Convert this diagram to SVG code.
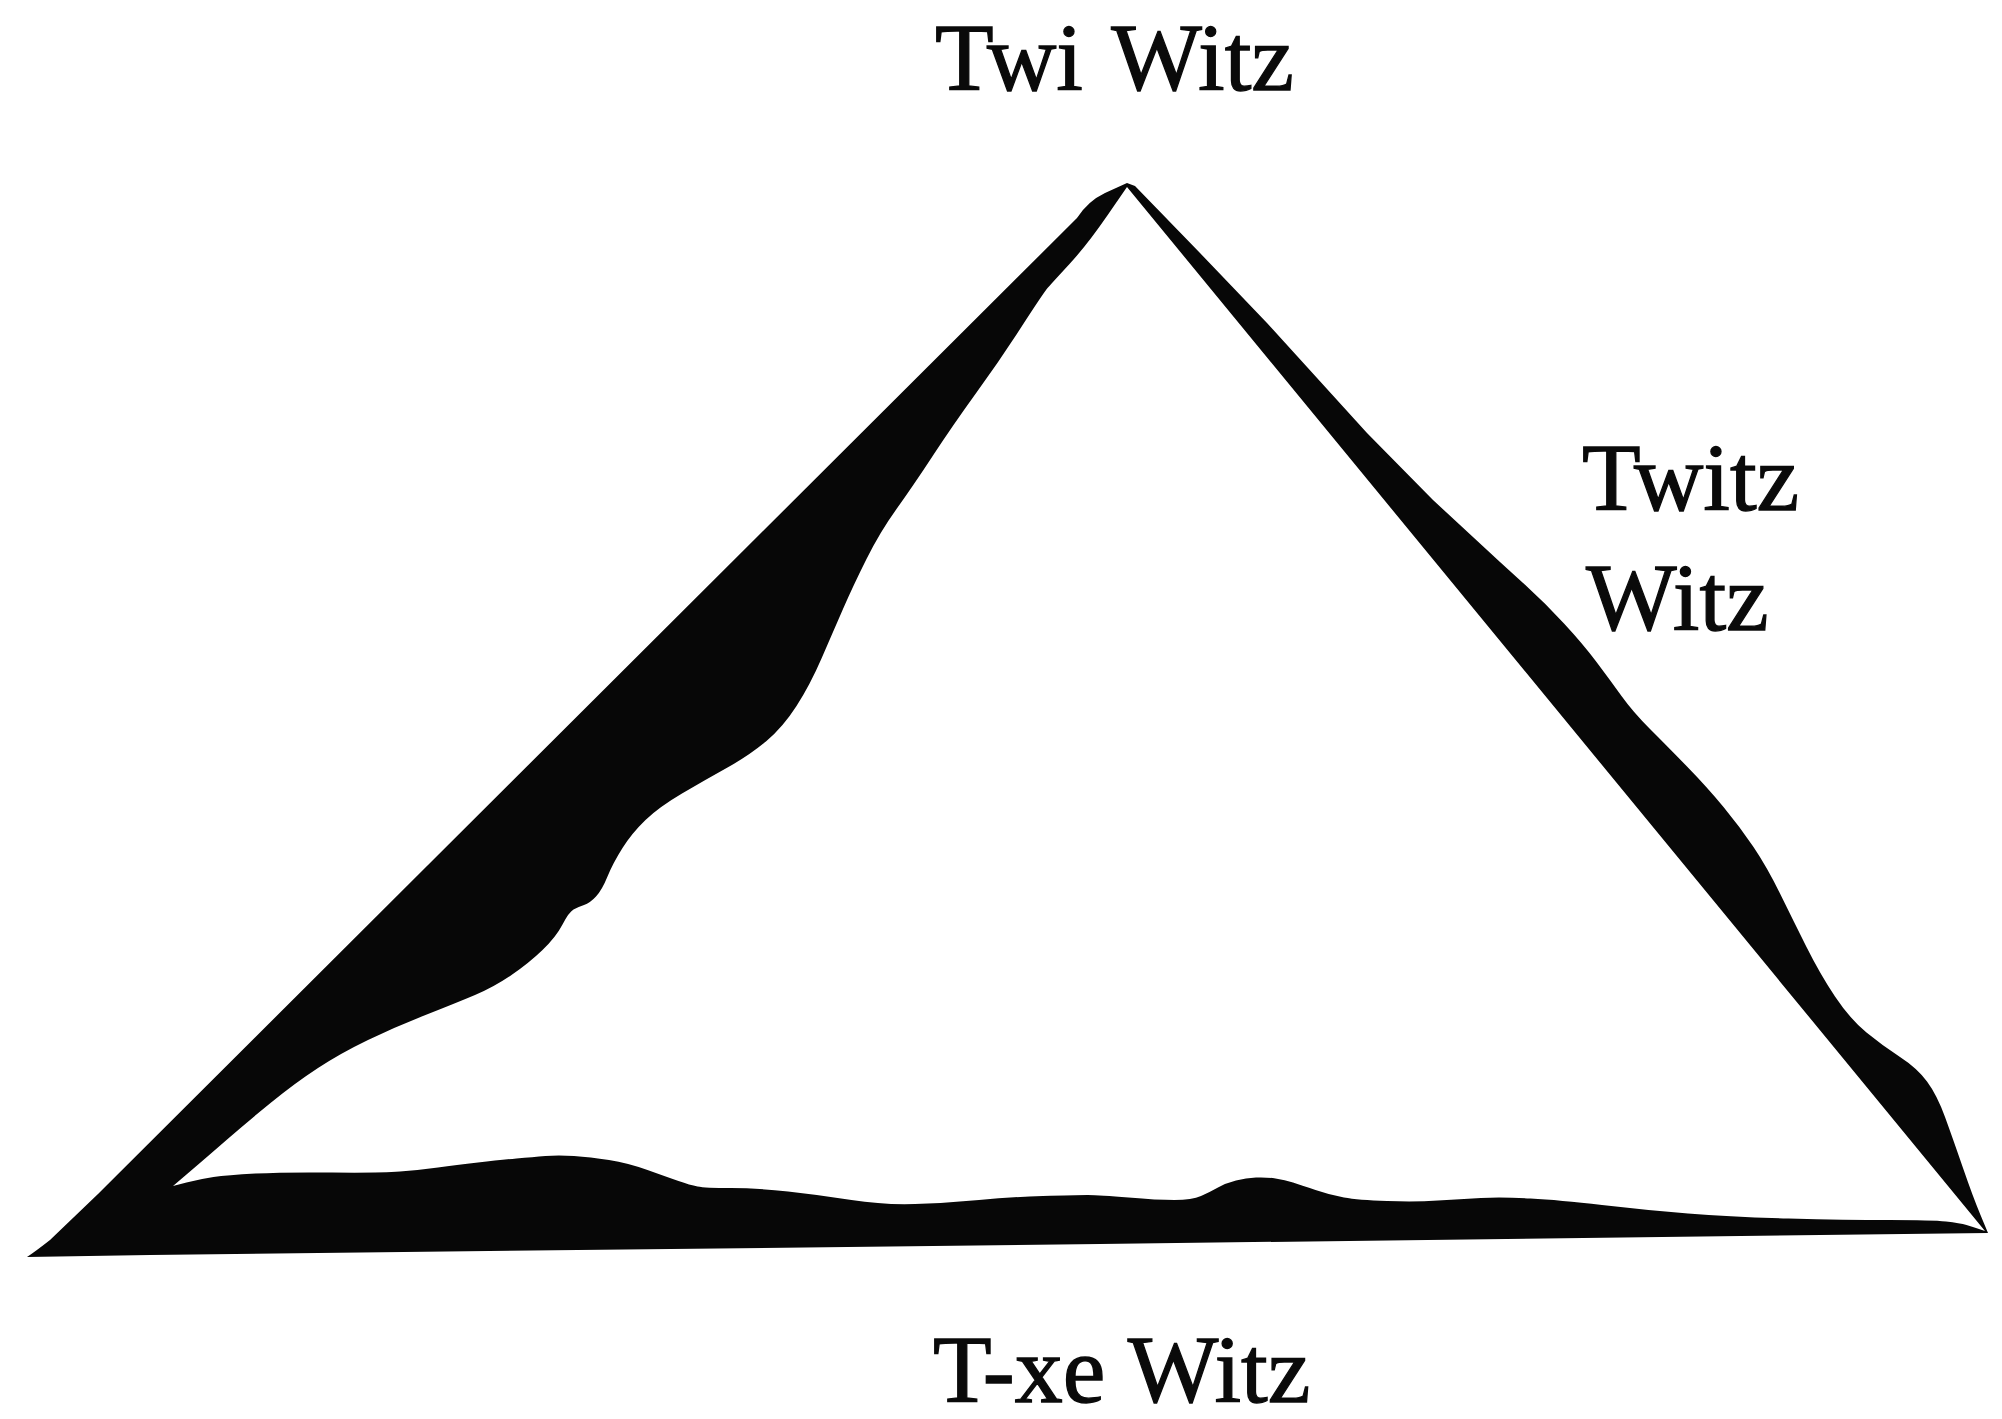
<svg xmlns="http://www.w3.org/2000/svg" width="2002" height="1419" viewBox="0 0 2002 1419">
<style>
.lbl{font-family:"Liberation Serif","Times New Roman",serif;font-size:96px;fill:#0a0a0a;stroke:#0a0a0a;stroke-width:1.3px}
.band{fill:#070707;fill-rule:evenodd}
</style>
<rect width="2002" height="1419" fill="#ffffff"/>
<g id="triangle">
<path class="band" d="M27,1257 Q36,1251 50,1240 L98,1194 L1077,218 Q1088,201 1105,193 L1127,183
L1135,186 L1200,253 L1267,323 L1367,433 L1433,500 L1500,562 L1522.5,582.5 Q1545,603 1564,623.5 Q1583,644 1596.5,662 Q1610,680 1621.5,696 Q1633,712 1650,729 Q1667,746 1687,766.5 Q1707,787 1723.5,807 Q1740,827 1753.5,847 Q1767,867 1780,893.5 Q1793,920 1806.5,947 Q1820,974 1835,996.5 Q1850,1019 1866.5,1032.5 Q1883,1046 1900,1057 Q1917,1068 1927,1081.5 Q1937,1095 1945,1117 Q1953,1139 1963,1168 Q1973,1197 1980.5,1215 L1988,1233
L1100,1244 L150,1255 Z
M1127,187 L1107,216 Q1087,245 1069.5,264 Q1052,283 1048,287.5 Q1044,292 1022,326 Q1000,360 976.5,392.5 Q953,425 933,455.5 Q913,486 896.5,509 Q880,532 866.5,559 Q853,586 843,609 Q833,632 821.5,658.5 Q810,685 796.5,706 Q783,727 766.5,741 Q750,755 727.5,767.5 Q705,780 682,793.5 Q659,807 645.5,820 Q632,833 622.5,848 Q613,863 607.5,876.5 Q602,890 596,896.5 Q590,903 584,905 Q578,907 573.5,909.5 Q569,912 562.5,924.5 Q556,937 542.5,950 Q529,963 511.5,975 Q494,987 475,995 Q456,1003 425.5,1015 Q395,1027 368,1040 Q341,1053 318,1068 Q295,1083 270.5,1103 Q246,1123 226.5,1140 Q207,1157 190,1171.5 L173,1186
L186.5,1182.5 Q200,1179 213.5,1177 Q227,1175 255.5,1173.5 Q284,1172 332,1172.5 Q380,1173 400,1171.5 Q420,1170 438,1167.5 Q456,1165 478,1162.5 Q500,1160 516.5,1158.5 Q533,1157 545.5,1156 Q558,1155 574,1156 Q590,1157 609,1160 Q628,1163 647.5,1170 Q667,1177 678.5,1181 Q690,1185 697.5,1186.5 Q705,1188 730.5,1188 Q756,1188 788,1191.5 Q820,1195 851.5,1200 Q883,1205 915,1204 Q947,1203 979,1200 Q1011,1197 1043,1196 Q1075,1195 1087.5,1195 Q1100,1195 1128.5,1197.5 Q1157,1200 1174.5,1200 Q1192,1200 1201,1196 Q1210,1192 1218,1187.5 Q1226,1183 1236,1180.5 Q1246,1178 1256,1177.5 Q1266,1177 1275.5,1178.5 Q1285,1180 1293,1182.5 Q1301,1185 1315.5,1190 Q1330,1195 1344,1197.5 Q1358,1200 1387,1201 Q1416,1202 1438,1200.5 Q1460,1199 1481,1198 Q1502,1197 1530.5,1198.5 Q1559,1200 1602,1205 Q1645,1210 1688,1213.5 Q1731,1217 1788.5,1218.5 Q1846,1220 1889,1220 Q1932,1220 1946,1221.5 Q1960,1223 1966.5,1225 Q1973,1227 1979,1229 L1985,1231 Z"/>
</g>
<g id="label-top"><text class="lbl" x="935" y="90" word-spacing="6">Twi Witz</text></g>
<g id="label-right"><text class="lbl" x="1582" y="510">Twitz</text><text class="lbl" x="1586" y="630">Witz</text></g>
<g id="label-bottom"><text class="lbl" x="933" y="1402">T-xe Witz</text></g>
<g id="connectors"></g>
</svg>
